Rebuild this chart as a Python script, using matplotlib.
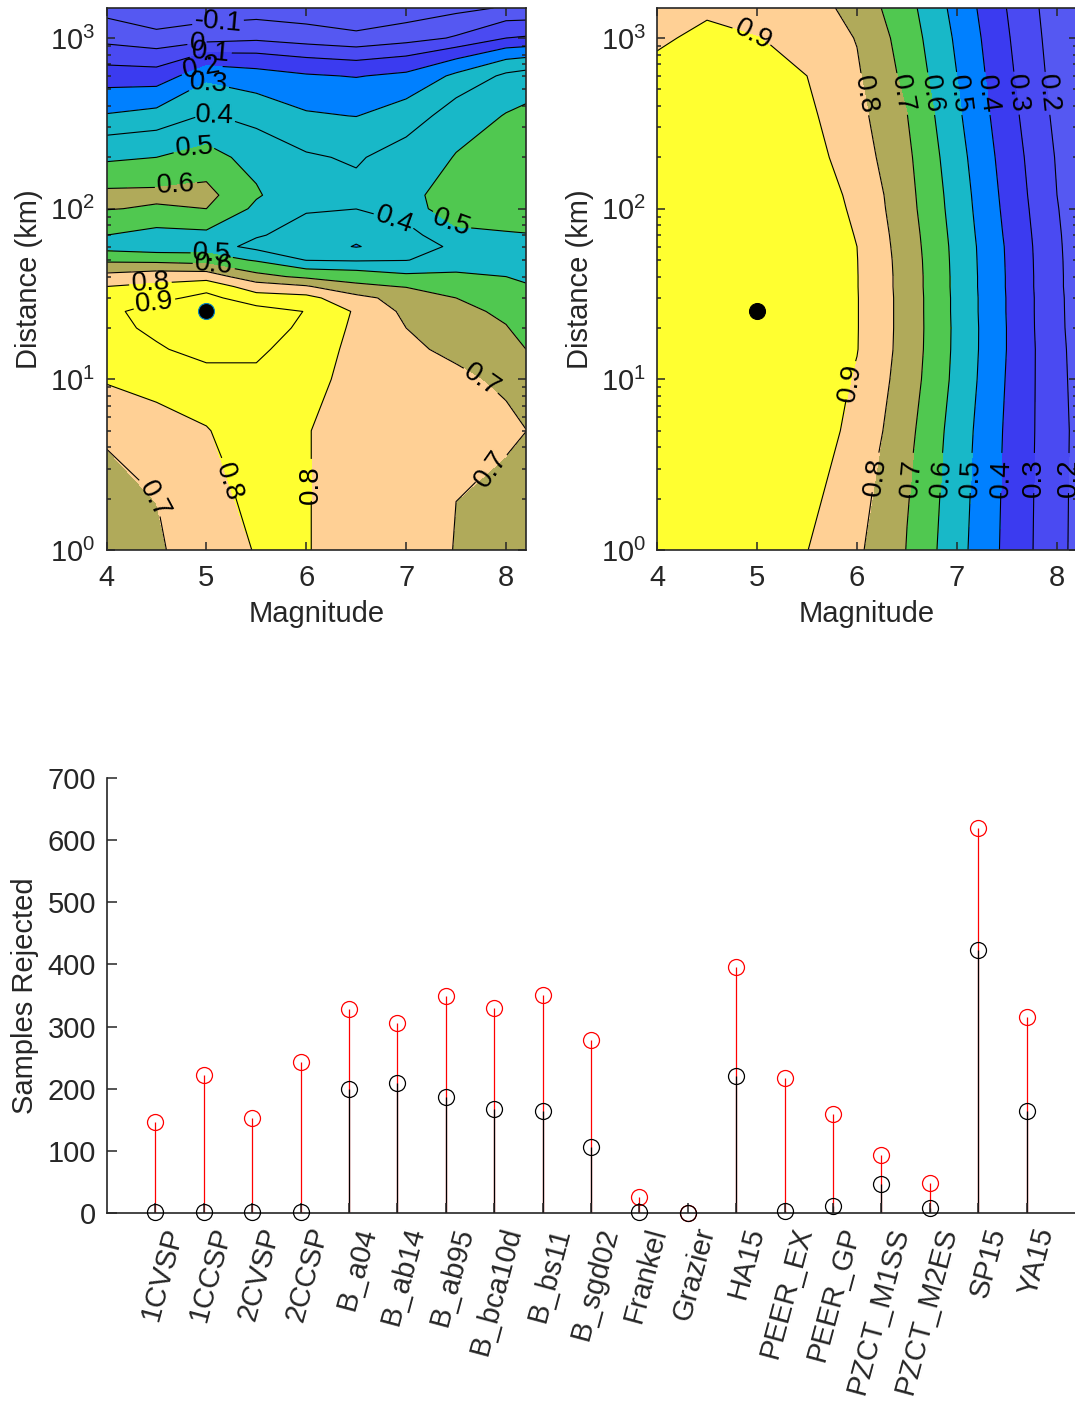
import numpy as np
import matplotlib
matplotlib.use("Agg")
import matplotlib.pyplot as plt
from matplotlib.colors import ListedColormap, BoundaryNorm
from matplotlib.transforms import ScaledTranslation

plt.rcParams['font.family'] = ['Liberation Sans', 'DejaVu Sans']
plt.rcParams['mathtext.default'] = 'regular'
plt.rcParams['font.size'] = 21

mags = [4, 4.5, 5, 5.5, 6, 6.5, 7, 7.5, 8, 8.2]
dists = [1, 5, 10, 15, 20, 25, 30, 35, 40, 50, 60, 70, 100, 120, 200, 350, 600, 1000, 1500]

# rows follow dists, columns follow mags
z_left = [
    [.62, .68, .78, .802, .805, .755, .74, .697, .665, .63],
    [.73, .77, .795, .85, .805, .755, .74, .71, .72, .701],
    [.81, .834, .87, .88, .83, .77, .735, .72, .68, .65],
    [.85, .89, .93, .92, .85, .775, .72, .677, .635, .60],
    [.87, .92, .98, .97, .87, .782, .70, .64, .605, .57],
    [.87, .95, 1.0, .94, .897, .788, .678, .63, .58, .54],
    [.86, .87, .93, .84, .83, .73, .66, .60, .56, .52],
    [.80, .82, .86, .75, .71, .62, .595, .54, .53, .505],
    [.73, .76, .76, .63, .58, .56, .52, .52, .50, .49],
    [.58, .57, .55, .49, .397, .39, .397, .44, .47, .46],
    [.46, .44, .45, .37, .345, .295, .345, .42, .48, .48],
    [.50, .47, .48, .41, .36, .32, .36, .48, .49, .495],
    [.605, .59, .60, .48, .41, .401, .46, .55, .57, .57],
    [.62, .62, .63, .51, .43, .42, .47, .55, .58, .58],
    [.48, .50, .53, .47, .41, .39, .44, .505, .57, .57],
    [.307, .33, .41, .36, .31, .298, .345, .45, .505, .52],
    [.142, .14, .27, .24, .21, .195, .22, .32, .42, .44],
    [-.034, -.07, -.04, -.02, -.05, -.077, -.04, .01, .10, .11],
    [-.14, -.19, -.17, -.16, -.17, -.19, -.17, -.13, -.09, -.09],
]
z_right = [
    [.95, .96, .95, .902, .817, .697, .535, .376, .23, .175],
    [.96, .97, .97, .95, .875, .73, .555, .385, .232, .18],
    [.97, .98, .98, .96, .892, .752, .572, .393, .228, .175],
    [.97, .985, .985, .965, .903, .76, .577, .398, .225, .172],
    [.97, .985, .99, .965, .904, .762, .578, .398, .22, .17],
    [.97, .985, .99, .965, .904, .762, .576, .396, .22, .167],
    [.97, .985, .99, .965, .904, .762, .576, .396, .22, .165],
    [.97, .985, .99, .965, .903, .76, .574, .394, .218, .162],
    [.97, .985, .99, .965, .903, .76, .574, .394, .218, .162],
    [.97, .985, .99, .96, .902, .757, .572, .392, .217, .16],
    [.97, .985, .99, .96, .90, .752, .57, .39, .215, .158],
    [.97, .985, .99, .96, .896, .748, .566, .385, .213, .155],
    [.96, .98, .985, .955, .885, .736, .557, .375, .205, .15],
    [.96, .98, .985, .95, .88, .732, .553, .37, .20, .145],
    [.96, .98, .98, .94, .85, .72, .538, .357, .192, .135],
    [.95, .975, .97, .92, .83, .702, .518, .34, .177, .125],
    [.93, .96, .95, .90, .812, .673, .50, .323, .163, .11],
    [.88, .93, .902, .87, .795, .653, .484, .31, .153, .10],
    [.82, .875, .86, .85, .762, .634, .467, .298, .145, .09],
]

levels_left = [-.1, 0, .1, .2, .3, .4, .5, .6, .7, .8, .9]
levels_right = [.2, .3, .4, .5, .6, .7, .8, .9]
colors_left = ['#5558F2', '#5558F2', '#4A4AF2', '#3B3BF0', '#0080FF', '#18B8C8', '#18B8C8',
               '#50C850', '#B0AA5A', '#FFD095', '#FFFF30', '#FFFF30']
colors_right = ['#5558F2', '#4A4AF2', '#3B3BF0', '#0080FF', '#18B8C8', '#50C850',
                '#B0AA5A', '#FFD095', '#FFFF30']

# level, magnitude, distance, rotation
labels_left = [
    (-.1, 5.12, 1144, -5), (0, 4.91, 898, -5), (.1, 5.04, 764, -5), (.2, 4.96, 659, 10),
    (.3, 5.01, 517, -4), (.4, 5.07, 336, -2), (.5, 4.89, 215, 4), (.6, 4.70, 131, 3),
    (.4, 6.87, 82, -20), (.5, 7.51, 93.5, -20), (.5, 5.05, 52.4, -3), (.6, 5.07, 45.2, -5),
    (.8, 4.44, 36.4, 3), (.9, 4.47, 29, 6), (.7, 7.78, 10.3, -35), (.7, 7.93, 2.64, 55),
    (.8, 5.21, 2.47, -72), (.8, 6.06, 2.4, 90), (.7, 4.47, 1.96, -62),
]
labels_right = [
    (.9, 4.97, 1099, -28), (.8, 6.10, 470, -80), (.7, 6.46, 470, -80), (.6, 6.75, 470, -82),
    (.5, 7.02, 470, -83), (.4, 7.29, 470, -83), (.3, 7.57, 470, -84), (.2, 7.89, 470, -84),
    (.9, 5.97, 9.5, 80), (.8, 6.23, 2.64, 82), (.7, 6.58, 2.64, 85), (.6, 6.89, 2.64, 85),
    (.5, 7.17, 2.64, 87), (.4, 7.47, 2.64, 88), (.3, 7.77, 2.64, 90), (.2, 8.12, 2.64, 90),
]

models = ['1CVSP', '1CCSP', '2CVSP', '2CCSP', 'B_a04', 'B_ab14', 'B_ab95', 'B_bca10d', 'B_bs11',
          'B_sgd02', 'Frankel', 'Grazier', 'HA15', 'PEER_EX', 'PEER_GP', 'PZCT_M1SS', 'PZCT_M2ES',
          'SP15', 'YA15']
red_vals = [146, 222, 153, 243, 328, 306, 349, 330, 351, 278, 26, 0, 396, 217, 159, 93, 48, 620, 315]
black_vals = [2, 2, 2, 2, 200, 209, 187, 167, 164, 106, 2, 0, 220, 3, 11, 47, 8, 423, 164]

W, H = 1075, 1403
DARK = '#262626'
fig = plt.figure(figsize=(W / 100, H / 100), dpi=100)


def contour_panel(rect, z, levels, colors, labels, dot_edge):
    ax = fig.add_axes(rect)
    ax.set_yscale('log')
    ax.set_xlim(4, 8.2)
    ax.set_ylim(1, 1500)
    bounds = [-2] + levels + [2]
    ax.contourf(mags, dists, z, levels=bounds, cmap=ListedColormap(colors),
                norm=BoundaryNorm(bounds, len(colors)))
    # one contour set per level, so each label lands on the right line
    line_sets = {lev: ax.contour(mags, dists, z, levels=[lev], colors='k', linewidths=0.8,
                                 negative_linestyles='solid') for lev in levels}
    for lev, m, d, rot in labels:
        txt = ax.clabel(line_sets[lev], manual=[(m, d)], fmt='%g', fontsize=20, inline_spacing=2)
        txt[-1].set_rotation(rot)
    ax.plot(5, 25, 'o', color='k', ms=11.5, mec=dot_edge, mew=0.8, zorder=6)
    ax.set_xticks([4, 5, 6, 7, 8])
    ax.tick_params(which='major', direction='in', length=6, width=1.1, top=True, right=True,
                   labelsize=21, colors=DARK)
    ax.tick_params(which='minor', direction='in', length=3, width=1.1, right=True, colors=DARK)
    ax.tick_params(axis='x', pad=10)
    ax.tick_params(axis='y', pad=8)
    for s in ax.spines.values():
        s.set_linewidth(1.2)
        s.set_color(DARK)
    ax.set_xlabel('Magnitude', fontsize=21, color=DARK, labelpad=6)
    ax.set_ylabel('Distance (km)', fontsize=21, color=DARK, labelpad=5)
    return ax


contour_panel([106.5 / W, 1 - 550 / H, 419.5 / W, 542 / H], z_left, levels_left, colors_left, labels_left, '#0080C0')
contour_panel([657 / W, 1 - 550 / H, 420 / W, 542 / H], z_right, levels_right, colors_right, labels_right, 'k')

ax3 = fig.add_axes([107 / W, 1 - 1213 / H, 968 / W, 435 / H])
xs = np.arange(1, len(models) + 1)
ax3.vlines(xs, 0, red_vals, color='r', lw=0.9)
ax3.plot(xs, red_vals, 'o', mfc='none', mec='r', ms=11.5, mew=0.9, clip_on=False)
ax3.vlines(xs, 0, black_vals, color='k', lw=0.9)
ax3.plot(xs, black_vals, 'o', mfc='none', mec='k', ms=11.5, mew=0.9, clip_on=False, zorder=5)
ax3.set_axisbelow(False)
ax3.set_xlim(0, 20)
ax3.set_ylim(0, 700)
ax3.set_xticks(xs)
ax3.set_xticklabels(models, rotation=75, ha='right', rotation_mode='anchor')
ax3.tick_params(axis='x', direction='in', length=7, width=1.1, labelsize=21, colors=DARK, pad=8)
ax3.tick_params(axis='y', direction='in', length=7, width=1.1, labelsize=21, colors=DARK, pad=8)
shift = ScaledTranslation(4 / 72, 0, fig.dpi_scale_trans)
for lab in ax3.get_xticklabels():
    lab.set_transform(lab.get_transform() + shift)
ax3.spines['top'].set_visible(False)
ax3.spines['right'].set_visible(False)
ax3.spines['left'].set_linewidth(1.2)
ax3.spines['bottom'].set_linewidth(1.2)
ax3.spines['left'].set_color(DARK)
ax3.spines['bottom'].set_color(DARK)
ax3.set_ylabel('Samples Rejected', fontsize=21, color=DARK, labelpad=6)

fig.savefig('out.png', dpi=100)
